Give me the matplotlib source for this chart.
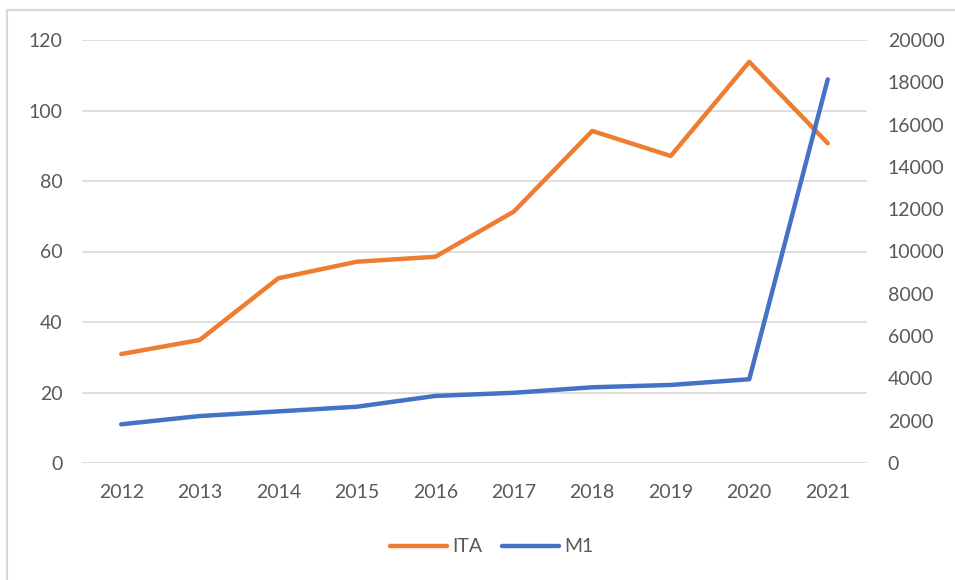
import matplotlib.pyplot as plt
from matplotlib.patches import Rectangle

years = ['2012', '2013', '2014', '2015', '2016', '2017', '2018', '2019', '2020', '2021']
ita = [30.9, 34.9, 52.4, 57.1, 58.5, 71.3, 94.2, 87.1, 113.8, 90.7]
m1 = [1830, 2220, 2440, 2660, 3170, 3320, 3580, 3690, 3960, 18140]

plt.rcParams['font.family'] = ['Lato', 'DejaVu Sans']
text_color = '#595959'
grid_color = '#D9D9D9'

fig = plt.figure(figsize=(9.55, 5.8), dpi=100)
fig.patch.set_facecolor('white')

# light chart border like the Excel frame
fig.patches.append(Rectangle((7 / 955, -0.1), 1.2, 1 - 10 / 580 + 0.1,
                             transform=fig.transFigure, fill=False,
                             edgecolor=grid_color, linewidth=1.5))

ax = fig.add_axes([82 / 955, 1 - 463 / 580, 785 / 955, 423 / 580])
ax2 = ax.twinx()

x = list(range(len(years)))
l1, = ax.plot(x, ita, color='#ED7D31', linewidth=3.2, solid_capstyle='round', zorder=3)
l2, = ax2.plot(x, m1, color='#4472C4', linewidth=3.2, solid_capstyle='round', zorder=3)

ax.set_xlim(-0.5, len(years) - 0.5)
ax.set_ylim(0, 120)
ax.set_yticks(range(0, 121, 20))
ax2.set_ylim(0, 20000)
ax2.set_yticks(range(0, 20001, 2000))
ax.set_xticks(x)
ax.set_xticklabels(years)

ax.grid(axis='y', color=grid_color, linewidth=1.2)
ax.set_axisbelow(True)

for a in (ax, ax2):
    for s in a.spines.values():
        s.set_visible(False)
    a.tick_params(length=0, labelsize=14, labelcolor=text_color)
ax.tick_params(axis='y', pad=14)
ax.tick_params(axis='x', pad=15)
ax2.tick_params(axis='y', pad=15)

fig.legend([l1, l2], ['ITA', 'M1'], loc='center', bbox_to_anchor=(492 / 955, 1 - 547 / 580),
           ncol=2, frameon=False, fontsize=14, labelcolor=text_color,
           handlelength=2.9, handletextpad=0.3, columnspacing=1.0)

fig.savefig('out.png', dpi=100)
